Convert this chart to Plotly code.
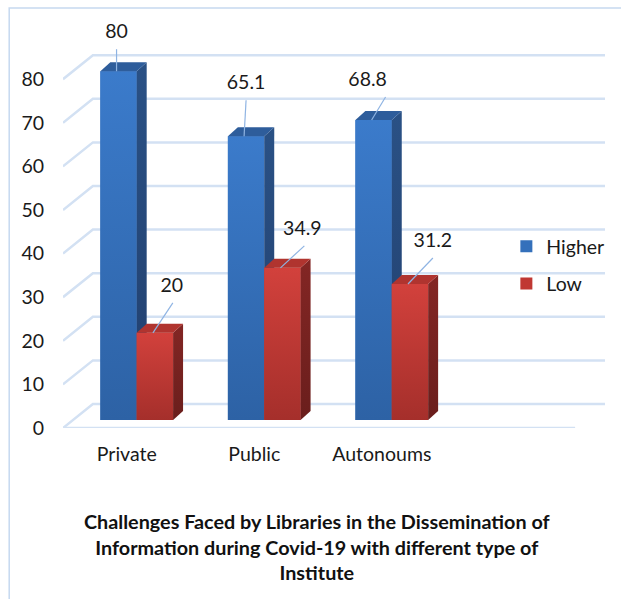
import plotly.graph_objects as go

# ---- data -------------------------------------------------------------
categories = ["Private", "Public", "Autonoums"]
higher = [80, 65.1, 68.8]
low = [20, 34.9, 31.2]
y_ticks = [0, 10, 20, 30, 40, 50, 60, 70, 80]

title_text = ("Challenges Faced by Libraries in the Dissemination of<br>"
              "Information during Covid-19 with different type of<br>Institute")

# ---- layout geometry (pixels) ----------------------------------------
W_PX, H_PX = 621, 599
PLOT_L, PLOT_R, PLOT_T, PLOT_B = 63, 607, 20, 428
CAT0_PX = 127          # pixel centre of the first category tick
STEP_PX = 128          # pixels between category ticks
UNIT_PX = 4.36         # pixels per value unit on the front plane

def px_x(p):           # horizontal pixel distance -> x units
    return p / STEP_PX

def px_y(p):           # vertical pixel distance -> y units
    return p / UNIT_PX

X_MIN = (PLOT_L - CAT0_PX) / STEP_PX
X_MAX = (PLOT_R - CAT0_PX) / STEP_PX
Y_MAX = (PLOT_B - PLOT_T) / UNIT_PX

# pseudo-3D offsets
BAR_DX, BAR_DY = px_x(10), px_y(8)        # bars sit slightly behind the front plane
DEP_DX, DEP_DY = px_x(10), px_y(9)        # bar depth (side / top faces)
WALL_DX, WALL_DY = px_x(30), px_y(24)     # back wall offset
BAR_W = px_x(36.5)
FLOOR_RIGHT = (577 - CAT0_PX) / STEP_PX

GRID_COLOR = "#d3e1f3"
LEADER_COLOR = "#8fb4e3"
FONT = "Lato, 'Open Sans', sans-serif"
FS = 19.5

colors = {
    "Higher": {"front": "#3470bb", "grad": ("#2d62a5", "#3b7bcb"),
               "side": ("#213f6e", "#2a5185"), "top": "#2e5d9b"},
    "Low": {"front": "#c03833", "grad": ("#a52f2b", "#d2413c"),
            "side": ("#6a1e1c", "#832624"), "top": "#b0342f"},
}

# value label placement: (dx px, dy px above bar top) and leader start dx
label_off = {
    "Higher": [(-2, 38, 0), (0, 52, 0), (-6, 39, 18)],
    "Low": [(17, 46, 1), (20, 38, 2), (23, 42, 0)],
}

fig = go.Figure()

# ---- perspective gridlines (left wall + back wall + floor edge) ------
gx, gy = [], []
for v in y_ticks:
    gx += [X_MIN, X_MIN + WALL_DX, X_MAX, None]
    gy += [v, v + WALL_DY, v + WALL_DY, None]
gx += [X_MIN, FLOOR_RIGHT, None]
gy += [0, 0, None]
fig.add_trace(go.Scatter(x=gx, y=gy, mode="lines", cliponaxis=False,
                         line=dict(color=GRID_COLOR, width=2.5),
                         hoverinfo="skip", showlegend=False, zorder=0))

xs = list(range(len(categories)))
z = 1
for name, vals, left_shift in (("Higher", higher, -BAR_W), ("Low", low, 0.0)):
    c = colors[name]
    # front faces
    fig.add_trace(go.Bar(x=xs, y=vals, base=BAR_DY, width=BAR_W,
                         offset=BAR_DX + left_shift, name=name,
                         marker=dict(color=c["front"], line=dict(width=0)),
                         legendgroup=name, zorder=z))
    for i, v in enumerate(vals):
        xl = i + BAR_DX + left_shift
        xr = xl + BAR_W
        top = BAR_DY + v
        # shaded front face
        fig.add_trace(go.Scatter(
            x=[xl, xr, xr, xl, xl], y=[BAR_DY, BAR_DY, top, top, BAR_DY],
            mode="lines", fill="toself", line=dict(width=0, color=c["front"]),
            fillgradient=dict(type="vertical",
                              colorscale=[[0, c["grad"][0]], [1, c["grad"][1]]]),
            hoverinfo="skip", showlegend=False, zorder=z + 1))
        # side face
        fig.add_trace(go.Scatter(
            x=[xr, xr, xr + DEP_DX, xr + DEP_DX, xr],
            y=[BAR_DY, top, top + DEP_DY, BAR_DY + DEP_DY, BAR_DY],
            mode="lines", fill="toself", line=dict(width=0, color=c["side"][1]),
            fillgradient=dict(type="vertical",
                              colorscale=[[0, c["side"][0]], [1, c["side"][1]]]),
            hoverinfo="skip", showlegend=False, zorder=z + 1))
        # top face
        fig.add_trace(go.Scatter(
            x=[xl, xr, xr + DEP_DX, xl + DEP_DX, xl],
            y=[top, top, top + DEP_DY, top + DEP_DY, top],
            mode="lines", fill="toself", fillcolor=c["top"],
            line=dict(width=0, color=c["top"]),
            hoverinfo="skip", showlegend=False, zorder=z + 1))
    z += 2

# ---- value labels with leader lines ----------------------------------
lx, ly, lt, leader_x, leader_y = [], [], [], [], []
for name, vals, left_shift in (("Higher", higher, -BAR_W), ("Low", low, 0.0)):
    for i, v in enumerate(vals):
        dxp, dyp, sdx = label_off[name][i]
        cx = i + BAR_DX + left_shift + BAR_W / 2
        top = BAR_DY + v
        tx_ = cx + px_x(dxp)
        ty_ = top + px_y(dyp)
        lx.append(tx_)
        ly.append(ty_)
        lt.append(f"{v:g}")
        leader_x += [tx_ + px_x(sdx), cx - px_x(2), None]
        leader_y += [ty_ - px_y(16), top, None]
fig.add_trace(go.Scatter(x=leader_x, y=leader_y, mode="lines",
                         line=dict(color=LEADER_COLOR, width=1.2),
                         hoverinfo="skip", showlegend=False, zorder=10))
fig.add_trace(go.Scatter(x=lx, y=ly, mode="text", text=lt,
                         textfont=dict(family=FONT, size=FS, color="#1a1a1a"),
                         hoverinfo="skip", showlegend=False, cliponaxis=False, zorder=11))

# ---- outer chart border -----------------------------------------------
pw, ph = PLOT_R - PLOT_L, PLOT_B - PLOT_T
fig.add_shape(type="rect", xref="paper", yref="paper",
              x0=(9 - PLOT_L) / pw, x1=(640 - PLOT_L) / pw,
              y0=(PLOT_B - 640) / ph, y1=(PLOT_B - 8) / ph,
              line=dict(color="#c6d9f0", width=1.5), fillcolor="rgba(0,0,0,0)")

# ---- title -------------------------------------------------------------
fig.add_annotation(text=f"<b>{title_text}</b>", xref="paper", yref="paper",
                   x=(318 - PLOT_L) / pw, y=(PLOT_B - 546) / ph,
                   xanchor="center", yanchor="middle", showarrow=False,
                   font=dict(family=FONT, size=19.8, color="#111111"))

fig.update_layout(
    width=W_PX, height=H_PX, autosize=False,
    margin=dict(l=PLOT_L, r=W_PX - PLOT_R, t=PLOT_T, b=H_PX - PLOT_B),
    paper_bgcolor="white", plot_bgcolor="white",
    barmode="overlay",
    font=dict(family=FONT, size=FS, color="#1a1a1a"),
    xaxis=dict(range=[X_MIN, X_MAX], tickmode="array", tickvals=xs, ticktext=categories,
               showgrid=False, zeroline=False, showline=False, ticks="",
               ticklabelstandoff=12, tickfont=dict(family=FONT, size=FS)),
    yaxis=dict(range=[0, Y_MAX], tickmode="array", tickvals=y_ticks,
               showgrid=False, zeroline=False, showline=False, ticks="",
               ticklabelstandoff=18, tickfont=dict(family=FONT, size=FS)),
    legend=dict(x=(508 - PLOT_L) / pw, y=(PLOT_B - 227) / ph, xanchor="left", yanchor="top",
                traceorder="grouped", tracegroupgap=9, bgcolor="rgba(0,0,0,0)",
                font=dict(family=FONT, size=FS, color="#1a1a1a")),
    showlegend=True,
)

fig.write_html("out.html")
